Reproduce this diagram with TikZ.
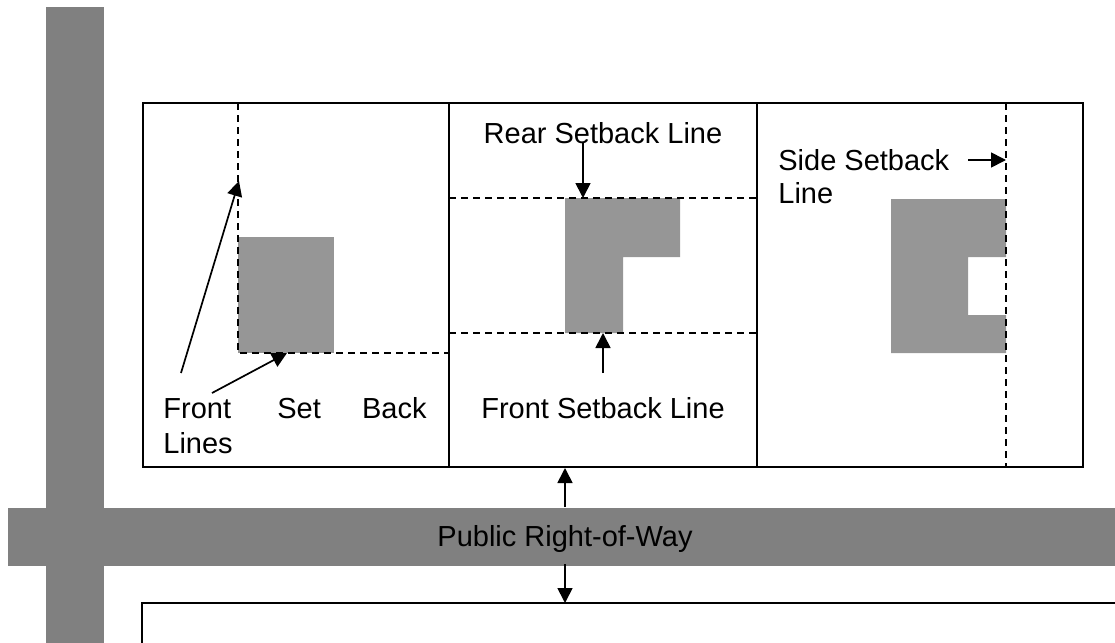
\documentclass[tikz,border=0pt]{standalone}
\usepackage{fontspec}
\setmainfont{Liberation Sans}
\usetikzlibrary{arrows.meta}

\begin{document}
\begin{tikzpicture}[x=0.5pt,y=-0.5pt,
	lot/.style={line width=0.95pt},
	setback/.style={line width=0.8pt, dash pattern=on 3.5pt off 2.5pt},
	pointer/.style={line width=0.85pt, -{Triangle[length=7.5pt,width=7.5pt]}},
	tag/.style={inner sep=0pt, font=\fontsize{14.5}{17}\selectfont},
	building/.style={fill=black!41},
	street/.style={fill=black!50}]
		%%%%% START %%%%%
		\useasboundingbox (0, 0) rectangle (1115, 643);
		
		% streets
		\fill[street] (46, 7) rectangle (104, 643);
		\fill[street] (8, 508) rectangle (1115, 566);
		\node[tag, anchor=base] (row) at (565, 546) {Public Right-of-Way};
		
		% lots
		\draw[lot] (143, 103) rectangle (1083, 467);
		\draw[lot] (449, 103) -- (449, 467);
		\draw[lot] (757, 103) -- (757, 467);
		\draw[lot] (142, 643) -- (142, 603) -- (1115, 603);
		
		% buildings
		\fill[building] (238, 237) rectangle (334, 353);
		\fill[building] (565, 198) -- (680, 198) -- (680, 257) -- (623, 257) -- (623, 333) -- (565, 333) -- cycle;
		\fill[building] (891, 199) -- (1006, 199) -- (1006, 257) -- (968, 257) -- (968, 315) -- (1006, 315) -- (1006, 353) -- (891, 353) -- cycle;
		
		% setback lines
		\draw[setback] (238, 103) -- (238, 353) -- (449, 353);
		\draw[setback] (449, 198) -- (757, 198);
		\draw[setback] (449, 333) -- (757, 333);
		\draw[setback] (1006, 103) -- (1006, 467);
		
		% labels
		\node[tag, anchor=base west] (front) at (163, 418) {Front};
		\node[tag, anchor=base west] (set) at (277, 418) {Set};
		\node[tag, anchor=base east] (back) at (427, 418) {Back};
		\node[tag, anchor=base west] (lines) at (163, 453) {Lines};
		\node[tag, anchor=base] (rear) at (603, 143) {Rear Setback Line};
		\node[tag, anchor=base] (frontsb) at (603, 418) {Front Setback Line};
		\node[tag, anchor=base west] (side) at (778, 170) {Side Setback};
		\node[tag, anchor=base west] (sideline) at (778, 203) {Line};
		
		% pointers
		\coordinate (fa) at (181, 373);
		\coordinate (fat) at (239, 181);
		\coordinate (fb) at (212, 393);
		\coordinate (fbt) at (287, 353);
		\coordinate (ra) at (583, 142);
		\coordinate (rat) at (583, 198);
		\coordinate (fsa) at (603, 373);
		\coordinate (fsat) at (603, 333);
		\coordinate (sa) at (968, 160);
		\coordinate (sat) at (1006, 160);
		\coordinate (rn) at (565, 507);
		\coordinate (rnt) at (565, 468);
		\coordinate (rs) at (565, 564);
		\coordinate (rst) at (565, 603);
		
		\draw[pointer] (fa) -- (fat);
		\draw[pointer] (fb) -- (fbt);
		\draw[pointer] (ra) -- (rat);
		\draw[pointer] (fsa) -- (fsat);
		\draw[pointer] (sa) -- (sat);
		\draw[pointer] (rn) -- (rnt);
		\draw[pointer] (rs) -- (rst);
		%%%%% END %%%%%
\end{tikzpicture}
\end{document}
